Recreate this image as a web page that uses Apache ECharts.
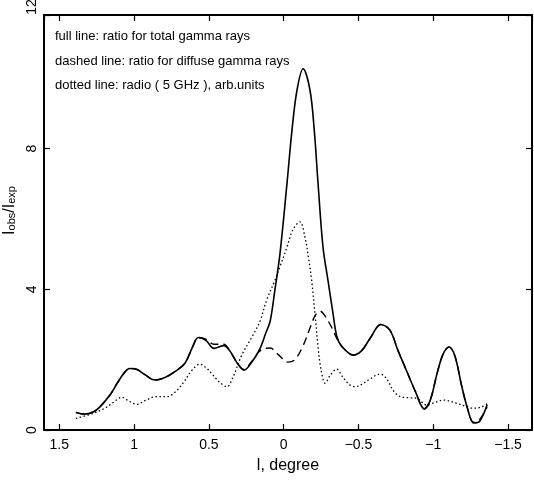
<!DOCTYPE html>
<html>
<head>
<meta charset="utf-8">
<script src="https://cdn.jsdelivr.net/npm/echarts@6/dist/echarts.min.js"></script>
<style>html,body{margin:0;padding:0;background:#fff}#c{width:534px;height:484px}</style>
</head>
<body>
<div id="c"></div>
<script>
// Galactic longitude (degrees) and values
const solidL = [1.389, 1.33, 1.27, 1.23, 1.16, 1.11, 1.07, 1.03, 0.98, 0.93, 0.86, 0.79, 0.73, 0.66, 0.61, 0.57, 0.52, 0.466, 0.40, 0.36, 0.31, 0.265, 0.21, 0.16, 0.12, 0.09, 0.058, 0.025, -0.022, -0.055, -0.089, -0.13, -0.176, -0.205, -0.23, -0.263, -0.296, -0.33, -0.356, -0.39, -0.465, -0.52, -0.577, -0.65, -0.71, -0.765, -0.82, -0.88, -0.94, -0.98, -1.025, -1.065, -1.105, -1.145, -1.19, -1.23, -1.27, -1.31, -1.36];
const solidV = [0.50, 0.45, 0.52, 0.65, 1.00, 1.35, 1.60, 1.75, 1.72, 1.58, 1.42, 1.50, 1.65, 1.90, 2.35, 2.63, 2.55, 2.32, 2.40, 2.25, 1.90, 1.70, 1.95, 2.30, 2.75, 3.10, 4.00, 5.00, 7.00, 8.50, 9.66, 10.27, 9.66, 8.50, 7.00, 5.20, 4.26, 3.31, 2.65, 2.37, 2.13, 2.25, 2.60, 3.00, 2.84, 2.25, 1.70, 1.10, 0.60, 0.85, 1.60, 2.15, 2.36, 2.10, 1.25, 0.60, 0.20, 0.25, 0.72];

const dashedL = [1.389, 1.33, 1.27, 1.23, 1.16, 1.11, 1.07, 1.03, 0.98, 0.93, 0.86, 0.79, 0.73, 0.66, 0.61, 0.57, 0.52, 0.466, 0.40, 0.36, 0.31, 0.265, 0.21, 0.17, 0.13, 0.09, 0.038, -0.03, -0.075, -0.13, -0.176, -0.21, -0.243, -0.283, -0.33, -0.356, -0.39, -0.465, -0.52, -0.577, -0.65, -0.71, -0.765, -0.82, -0.88, -0.94, -0.98, -1.025, -1.065, -1.105, -1.145, -1.19, -1.23, -1.27, -1.31, -1.36];
const dashedV = [0.50, 0.45, 0.52, 0.65, 1.00, 1.35, 1.60, 1.75, 1.72, 1.58, 1.42, 1.50, 1.65, 1.90, 2.35, 2.63, 2.58, 2.44, 2.44, 2.25, 1.90, 1.72, 1.97, 2.20, 2.32, 2.33, 2.15, 1.93, 2.00, 2.40, 2.90, 3.25, 3.38, 3.20, 2.84, 2.60, 2.37, 2.13, 2.25, 2.60, 3.00, 2.84, 2.25, 1.70, 1.10, 0.60, 0.85, 1.60, 2.15, 2.36, 2.10, 1.25, 0.60, 0.22, 0.30, 0.65];

const dottedL = [1.389, 1.275, 1.195, 1.14, 1.083, 1.034, 0.983, 0.92, 0.85, 0.78, 0.727, 0.673, 0.613, 0.56, 0.513, 0.473, 0.426, 0.38, 0.339, 0.28, 0.205, 0.158, 0.114, 0.058, 0.025, -0.022, -0.062, -0.109, -0.142, -0.166, -0.187, -0.209, -0.229, -0.243, -0.263, -0.276, -0.31, -0.354, -0.396, -0.437, -0.477, -0.523, -0.577, -0.644, -0.69, -0.73, -0.778, -0.83, -0.889, -0.956, -1.01, -1.067, -1.157, -1.212, -1.268, -1.32, -1.366];
const dottedV = [0.33, 0.47, 0.62, 0.78, 0.93, 0.82, 0.73, 0.85, 0.95, 0.95, 1.07, 1.33, 1.70, 1.87, 1.75, 1.56, 1.35, 1.23, 1.50, 2.13, 2.70, 3.10, 3.69, 4.26, 4.64, 5.20, 5.70, 5.92, 5.49, 4.90, 4.26, 3.31, 2.40, 1.89, 1.45, 1.33, 1.55, 1.73, 1.50, 1.30, 1.23, 1.30, 1.45, 1.59, 1.45, 1.14, 0.95, 0.92, 0.90, 0.71, 0.78, 0.85, 0.76, 0.68, 0.62, 0.65, 0.76];

const legendLines = [
  'full line: ratio for total gamma rays',
  'dashed line: ratio for diffuse gamma rays',
  'dotted line: radio ( 5 GHz ), arb.units'
];
const xMin = -1.66, xMax = 1.602;
const yMin = 0, yMax = 11.8, yStep = 4;

const zip = (a, b) => a.map((v, i) => [v, b[i]]);

const chart = echarts.init(document.getElementById('c'), null, {renderer: 'canvas'});
const FONT = 'Liberation Sans';
const axisLineStyle = {color: '#000', width: 2};
const baseX = {
  type: 'value', min: xMin, max: xMax, inverse: true,
  splitLine: {show: false},
  axisLine: {show: true, onZero: false, lineStyle: axisLineStyle},
  axisTick: {show: true, inside: true, length: 6, lineStyle: {color: '#000', width: 1.2}}
};
const baseY = {
  type: 'value', min: yMin, max: yMax, interval: yStep,
  splitLine: {show: false},
  axisLine: {show: true, onZero: false, lineStyle: axisLineStyle},
  axisTick: {show: true, inside: true, length: 6, lineStyle: {color: '#000', width: 1.2}}
};
chart.setOption({
  animation: false,
  backgroundColor: '#fff',
  grid: {left: 44, right: 2, top: 15, bottom: 54, containLabel: false, outerBoundsMode: 'none'},
  xAxis: [
    Object.assign({}, baseX, {
      position: 'bottom',
      name: 'l, degree', nameLocation: 'middle', nameGap: 28,
      nameTextStyle: {fontFamily: FONT, fontSize: 16, color: '#000'},
      axisLabel: {show: true, showMinLabel: false, showMaxLabel: false, margin: 8,
        fontFamily: FONT, fontSize: 14, color: '#000',
        formatter: v => (v < 0 ? '\u2212' + String(-v) : String(v))}
    }),
    Object.assign({}, baseX, {position: 'top', axisLabel: {show: false}})
  ],
  yAxis: [
    Object.assign({}, baseY, {
      position: 'left',
      name: 'I{s|obs}/I{s|exp}', nameLocation: 'middle', nameGap: 21, nameRotate: 90,
      nameTextStyle: {fontFamily: FONT, fontSize: 16, color: '#000', padding: [0, 0, 0, 24],
        rich: {s: {fontFamily: FONT, fontSize: 11, color: '#000', verticalAlign: 'bottom', lineHeight: 10, padding: [8, 0, 0, 0]}}},
      axisLabel: {show: true, rotate: 90, margin: 5, fontFamily: FONT, fontSize: 14, color: '#000',
        showMaxLabel: true,
        formatter: v => (v > yMax - 1 ? '{t|12}' : String(v)),
        rich: {t: {fontFamily: FONT, fontSize: 14, color: '#000', padding: [0, 0, 0, 16]}}}
    }),
    Object.assign({}, baseY, {position: 'right', axisLabel: {show: false}})
  ],
  graphic: legendLines.map((t, i) => ({
    type: 'text', left: 55, top: 30 + i * 24.5,
    style: {text: t, fontFamily: FONT, fontSize: 13, fill: '#000'}
  })),
  series: [
    {type: 'line', data: zip(dashedL, dashedV), showSymbol: false, smooth: 0.35,
      lineStyle: {color: '#000', width: 1.4, type: [8, 5]}},
    {type: 'line', data: zip(dottedL, dottedV), showSymbol: false, smooth: 0.35,
      lineStyle: {color: '#000', width: 1.3, type: [1.5, 2.5]}},
    {type: 'line', data: zip(solidL, solidV), showSymbol: false, smooth: 0.35,
      lineStyle: {color: '#000', width: 1.6}}
  ]
});
</script>
</body>
</html>
